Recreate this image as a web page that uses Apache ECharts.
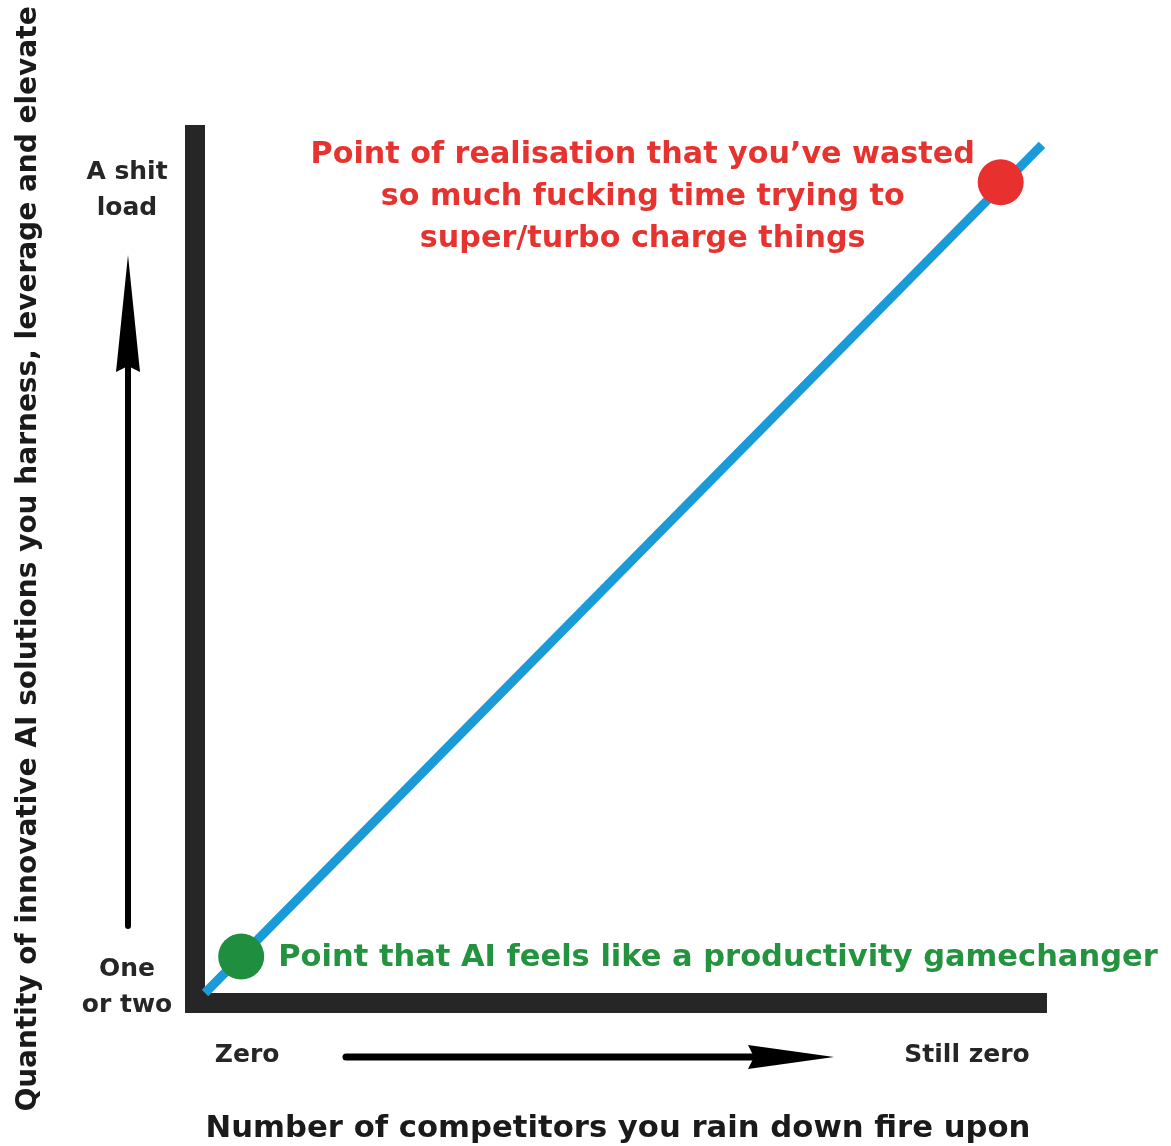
<!DOCTYPE html>
<html>
<head>
<meta charset="utf-8">
<title>AI chart</title>
<script src="https://cdn.jsdelivr.net/npm/echarts@6/dist/echarts.min.js"></script>
<style>
  html, body { margin: 0; padding: 0; background: #fff; }
  #main { width: 1171px; height: 1146px; }
</style>
</head>
<body>
<div id="main"></div>
<script>
// values on a 0-100 scale for both axes
const trendX = [0, 99.4];
const trendY = [0, 97.7];
const greenPoint = [4.3, 4.2];
const redPoint = [94.5, 93.4];
const xTickValues = [5, 90.5];
const xTickLabels = ['Zero', 'Still zero'];
const yTickValues = [0.6, 92.5];
const yTickLabels = ['One\nor two', 'A shit\nload'];
const greenText = 'Point that AI feels like a productivity gamechanger';
const redText = 'Point of realisation that you\u2019ve wasted\nso much fucking time trying to\nsuper/turbo charge things';
const xTitle = 'Number of competitors you rain down fire upon';
const yTitle = 'Quantity of innovative AI solutions you harness, leverage and elevate';

const font = 'DejaVu Sans';
const dark = '#262626';

let myChart = echarts.init(document.getElementById('main'));
myChart.setOption({
    backgroundColor: '#fff',
    animation: false,
    grid: {
        left: 205,
        right: 124,
        top: 125,
        bottom: 153,
        outerBoundsMode: 'none'
    },
    xAxis: {
        type: 'value',
        min: 0,
        max: 100,
        offset: 10,
        name: xTitle,
        nameLocation: 'middle',
        nameGap: 111,
        nameTextStyle: { fontFamily: font, fontWeight: 'bold', fontSize: 30.7, color: '#1a1a1a', padding: [0, 16, 0, 0] },
        axisLine: { onZero: false, lineStyle: { color: dark, width: 20, cap: 'butt' } },
        axisTick: { show: false },
        splitLine: { show: false },
        axisLabel: {
            customValues: xTickValues,
            margin: 40,
            fontFamily: font,
            fontWeight: 'bold',
            fontSize: 25,
            color: dark,
            formatter: v => xTickLabels[xTickValues.indexOf(v)] || ''
        }
    },
    yAxis: {
        type: 'value',
        min: 0,
        max: 100,
        offset: 10,
        name: yTitle,
        nameLocation: 'middle',
        nameGap: 152,
        nameTextStyle: { fontFamily: font, fontWeight: 'bold', fontSize: 28, color: '#1a1a1a' },
        axisLine: { onZero: false, lineStyle: { color: dark, width: 20, cap: 'butt' } },
        axisTick: { show: false },
        splitLine: { show: false },
        axisLabel: {
            customValues: yTickValues,
            margin: 68,
            align: 'center',
            fontFamily: font,
            fontWeight: 'bold',
            fontSize: 25,
            lineHeight: 36,
            color: dark,
            formatter: v => yTickLabels[yTickValues.indexOf(v)] || ''
        }
    },
    series: [
        {
            type: 'line',
            data: trendX.map((x, i) => [x, trendY[i]]),
            symbol: 'none',
            clip: true,
            lineStyle: { color: '#1b9ad8', width: 9, cap: 'butt' },
            z: 3
        },
        {
            type: 'scatter',
            data: [greenPoint],
            symbolSize: 46,
            itemStyle: { color: '#1f8f3f', opacity: 1 },
            label: {
                show: true,
                position: 'right',
                distance: 14,
                offset: [0, 2],
                formatter: greenText,
                fontFamily: font,
                fontWeight: 'bold',
                fontSize: 30.5,
                color: '#23933f'
            },
            z: 4
        },
        {
            type: 'scatter',
            data: [redPoint],
            symbolSize: 46,
            itemStyle: { color: '#e8302e', opacity: 1 },
            label: {
                show: true,
                position: [-335, 38],
                align: 'center',
                verticalAlign: 'middle',
                formatter: redText,
                fontFamily: font,
                fontWeight: 'bold',
                fontSize: 30.2,
                lineHeight: 42,
                color: '#e6332f'
            },
            z: 4
        }
    ],
    graphic: [
        // fill the corner where the two axis bars meet
        { type: 'rect', shape: { x: 185, y: 993, width: 20, height: 20 }, style: { fill: dark } },
        // vertical direction arrow
        { type: 'line', shape: { x1: 128, y1: 926, x2: 128, y2: 360 }, style: { stroke: '#000', lineWidth: 6, lineCap: 'round' } },
        { type: 'polygon', shape: { points: [[128, 255], [116, 372], [128, 366], [140, 372]] }, style: { fill: '#000' } },
        // horizontal direction arrow
        { type: 'line', shape: { x1: 346, y1: 1057, x2: 760, y2: 1057 }, style: { stroke: '#000', lineWidth: 7, lineCap: 'round' } },
        { type: 'polygon', shape: { points: [[834, 1057], [748, 1045], [754, 1057], [748, 1069]] }, style: { fill: '#000' } }
    ]
});
</script>
</body>
</html>
